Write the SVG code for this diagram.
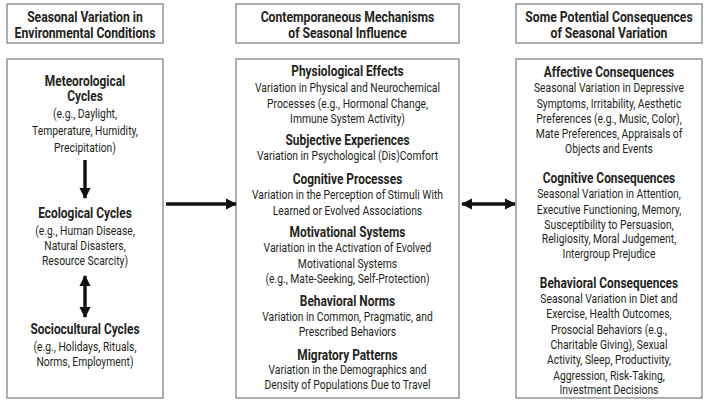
<svg xmlns="http://www.w3.org/2000/svg" width="710" height="401" viewBox="0 0 710 401">
<defs>
<style>
.box{fill:#fff;stroke:#7a7a7a;stroke-width:1.2}
text{font-family:"Roboto","Liberation Sans",sans-serif;fill:#231f20;text-anchor:middle}
.h{font-size:14.5px;font-weight:bold}
.t{font-size:14px;font-weight:bold}
.b{font-size:12.7px}
.arr{stroke:#111;stroke-width:3.4;fill:none}
</style>
<marker id="ah" viewBox="0 0 10 10" refX="9" refY="5" markerWidth="3.4" markerHeight="3.4" orient="auto-start-reverse" markerUnits="strokeWidth">
<path d="M0,0 L10,5 L0,10 z" fill="#111"/>
</marker>
</defs>
<rect width="710" height="401" fill="#fff"/>
<g id="header1"><rect class="box" x="7" y="4" width="156" height="39"/>
<g transform="matrix(0.84,0,0,1,13.6,0)">
<text class="h" x="85" y="22">Seasonal Variation in</text>
<text class="h" x="85" y="38">Environmental Conditions</text></g></g>
<g id="header2"><rect class="box" x="236" y="4" width="223" height="39"/>
<g transform="matrix(0.84,0,0,1,55.6,0)">
<text class="h" x="347.5" y="22">Contemporaneous Mechanisms</text>
<text class="h" x="347.5" y="38">of Seasonal Influence</text></g></g>
<g id="header3"><rect class="box" x="516" y="4" width="186" height="39"/>
<g transform="matrix(0.84,0,0,1,97.44,0)">
<text class="h" x="609" y="22">Some Potential Consequences</text>
<text class="h" x="609" y="38">of Seasonal Variation</text></g></g>
<g id="environment"><rect class="box" x="7" y="59" width="156" height="339"/>
<g id="environment-titles" transform="matrix(0.85,0,0,1,12.75,0)">
<text class="t" x="85" y="86">Meteorological</text>
<text class="t" x="85" y="101.5">Cycles</text>
<text class="t" x="85" y="218.5">Ecological Cycles</text>
<text class="t" x="85" y="334.5">Sociocultural Cycles</text>
</g>
<g id="environment-details" transform="matrix(0.815,0,0,1,15.725,0)">
<text class="b" x="85" y="118">(e.g., Daylight,</text>
<text class="b" x="85" y="135">Temperature, Humidity,</text>
<text class="b" x="85" y="152">Precipitation)</text>
<text class="b" x="85" y="235">(e.g., Human Disease,</text>
<text class="b" x="85" y="250">Natural Disasters,</text>
<text class="b" x="85" y="265">Resource Scarcity)</text>
<text class="b" x="85" y="351">(e.g., Holidays, Rituals,</text>
<text class="b" x="85" y="366">Norms, Employment)</text>
</g></g>
<g id="mechanisms"><rect class="box" x="236" y="59" width="223" height="339"/>
<g id="mechanisms-titles" transform="matrix(0.85,0,0,1,52.125,0)">
<text class="t" x="347.5" y="76.5">Physiological Effects</text>
<text class="t" x="347.5" y="145">Subjective Experiences</text>
<text class="t" x="347.5" y="184">Cognitive Processes</text>
<text class="t" x="347.5" y="237.5">Motivational Systems</text>
<text class="t" x="347.5" y="306">Behavioral Norms</text>
<text class="t" x="347.5" y="360">Migratory Patterns</text>
</g>
<g id="mechanisms-details" transform="matrix(0.815,0,0,1,64.2875,0)">
<text class="b" x="347.5" y="92">Variation in Physical and Neurochemical</text>
<text class="b" x="347.5" y="108">Processes (e.g., Hormonal Change,</text>
<text class="b" x="347.5" y="123">Immune System Activity)</text>
<text class="b" x="347.5" y="160">Variation in Psychological (Dis)Comfort</text>
<text class="b" x="347.5" y="199">Variation in the Perception of Stimuli With</text>
<text class="b" x="347.5" y="215">Learned or Evolved Associations</text>
<text class="b" x="347.5" y="252">Variation in the Activation of Evolved</text>
<text class="b" x="347.5" y="268">Motivational Systems</text>
<text class="b" x="347.5" y="283">(e.g., Mate-Seeking, Self-Protection)</text>
<text class="b" x="347.5" y="321">Variation in Common, Pragmatic, and</text>
<text class="b" x="347.5" y="336">Prescribed Behaviors</text>
<text class="b" x="347.5" y="374">Variation in the Demographics and</text>
<text class="b" x="347.5" y="389">Density of Populations Due to Travel</text>
</g></g>
<g id="consequences"><rect class="box" x="516" y="59" width="186" height="339"/>
<g id="consequences-titles" transform="matrix(0.85,0,0,1,91.35,0)">
<text class="t" x="609" y="77">Affective Consequences</text>
<text class="t" x="609" y="183">Cognitive Consequences</text>
<text class="t" x="609" y="288">Behavioral Consequences</text>
</g>
<g id="consequences-details" transform="matrix(0.815,0,0,1,112.665,0)">
<text class="b" x="609" y="92">Seasonal Variation in Depressive</text>
<text class="b" x="609" y="108">Symptoms, Irritability, Aesthetic</text>
<text class="b" x="609" y="123">Preferences (e.g., Music, Color),</text>
<text class="b" x="609" y="138">Mate Preferences, Appraisals of</text>
<text class="b" x="609" y="153">Objects and Events</text>
<text class="b" x="609" y="198">Seasonal Variation in Attention,</text>
<text class="b" x="609" y="214">Executive Functioning, Memory,</text>
<text class="b" x="609" y="229">Susceptibility to Persuasion,</text>
<text class="b" x="609" y="243">Religiosity, Moral Judgement,</text>
<text class="b" x="609" y="258">Intergroup Prejudice</text>
<text class="b" x="609" y="303">Seasonal Variation in Diet and</text>
<text class="b" x="609" y="318">Exercise, Health Outcomes,</text>
<text class="b" x="609" y="334">Prosocial Behaviors (e.g.,</text>
<text class="b" x="609" y="349">Charitable Giving), Sexual</text>
<text class="b" x="609" y="364">Activity, Sleep, Productivity,</text>
<text class="b" x="609" y="380">Aggression, Risk-Taking,</text>
<text class="b" x="609" y="394">Investment Decisions</text>
</g></g>
<g id="connectors">
<line class="arr" x1="85" y1="160" x2="85" y2="198" marker-end="url(#ah)"/>
<line class="arr" x1="85" y1="276" x2="85" y2="317" marker-start="url(#ah)" marker-end="url(#ah)"/>
<line class="arr" x1="166" y1="204" x2="236" y2="204" marker-end="url(#ah)"/>
<line class="arr" x1="462" y1="204" x2="515" y2="204" marker-start="url(#ah)" marker-end="url(#ah)"/>
</g>
</svg>
